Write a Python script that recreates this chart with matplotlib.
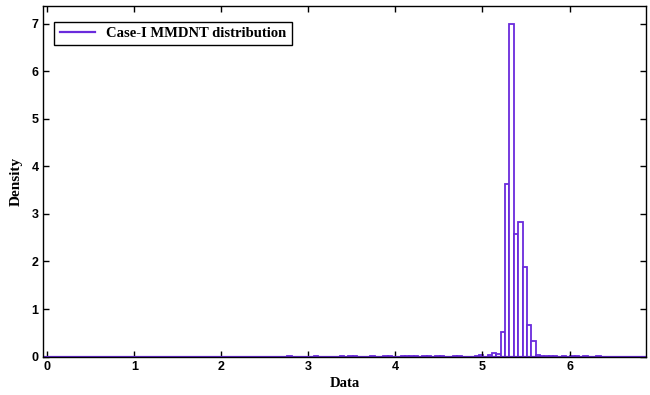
import matplotlib.pyplot as plt
import numpy as np

# histogram bins (left edges) and densities
bin_width = 0.05
bin_left = [2.76, 3.06, 3.36, 3.46, 3.51, 3.71, 3.86, 3.91,
            4.06, 4.11, 4.16, 4.21, 4.31, 4.36, 4.46, 4.51, 4.66, 4.71,
            4.91, 4.96, 5.06, 5.11, 5.16,
            5.21, 5.26, 5.31, 5.36, 5.41, 5.46, 5.51, 5.56,
            5.61, 5.66, 5.71, 5.76, 5.81, 5.91, 6.01, 6.06, 6.16, 6.31]
density = [0.02, 0.02, 0.02, 0.02, 0.02, 0.02, 0.02, 0.02,
           0.02, 0.02, 0.02, 0.02, 0.02, 0.02, 0.02, 0.02, 0.02, 0.02,
           0.02, 0.03, 0.04, 0.08, 0.06,
           0.52, 3.63, 7.0, 2.57, 2.82, 1.89, 0.66, 0.32,
           0.03, 0.02, 0.02, 0.02, 0.02, 0.02, 0.02, 0.02, 0.02, 0.02]

purple = '#6a2bdc'
serif = ['Liberation Serif', 'DejaVu Serif']
sans = ['Liberation Sans', 'DejaVu Sans']

fig = plt.figure(figsize=(6.5, 3.95), dpi=100)
ax = fig.add_axes([0.066, 0.097, 0.928, 0.888])

ax.bar(bin_left, density, width=bin_width, align='edge',
       facecolor='white', edgecolor=purple, linewidth=1.3)
line, = ax.plot([-0.05, 6.88], [0, 0], color=purple, lw=1.6)

ax.set_xlim(-0.05, 6.88)
ax.set_ylim(0, 7.37)
ax.set_xticks(range(0, 7))
ax.set_yticks(range(0, 8))
ax.tick_params(direction='in', length=4, width=1, top=True, right=True,
               labelsize=9, pad=3)
for lab in ax.get_xticklabels() + ax.get_yticklabels():
    lab.set_fontfamily(sans)
    lab.set_fontweight('bold')
for s in ax.spines.values():
    s.set_linewidth(1)

ax.set_xlabel('Data', family=serif, fontweight='bold', fontsize=10.5, labelpad=3)
ax.set_ylabel('Density', family=serif, fontweight='bold', fontsize=11, labelpad=6)

leg = ax.legend([line], ['Case-I MMDNT distribution'], loc='upper left',
                bbox_to_anchor=(0.007, 0.975), fancybox=False, framealpha=1,
                edgecolor='black', handlelength=2.4, borderpad=0.35,
                prop={'family': serif, 'weight': 'bold', 'size': 10.5})
leg.get_frame().set_linewidth(1)

fig.savefig('out.png', dpi=100)
